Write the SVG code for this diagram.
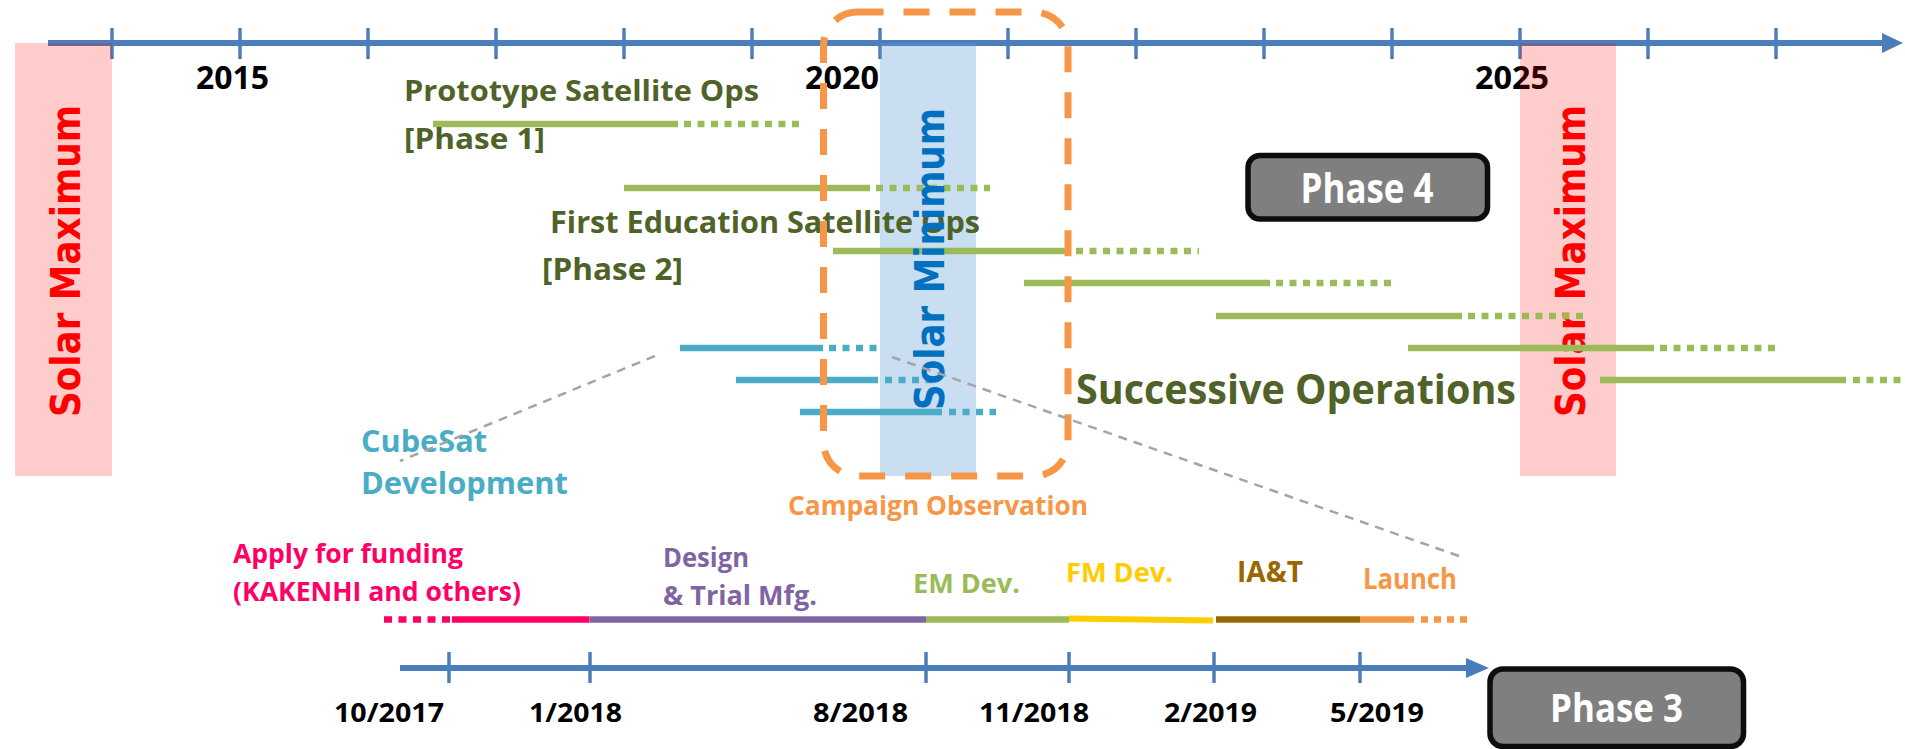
<svg xmlns="http://www.w3.org/2000/svg" width="1905" height="749" viewBox="0 0 1905 749">
<defs>
<style>
.t{font-family:'Open Sans','Liberation Sans',sans-serif;font-weight:700}
.v{font-family:'DejaVu Sans',Verdana,sans-serif;font-weight:700}
.ax{stroke:#4A7EBB;stroke-width:6;fill:none}
.tk{stroke:#4A7EBB;stroke-width:3.5}
.g{stroke:#9BBB59;stroke-width:6.5}
.gd{stroke:#9BBB59;stroke-width:6.5;stroke-dasharray:7 6.5}
.c{stroke:#4BACC6;stroke-width:6.5}
.cd{stroke:#4BACC6;stroke-width:6.5;stroke-dasharray:7 6.5}
.og{fill:#4F6228}
.yr{fill:#000;font-size:33px}
.dt{fill:#000;font-size:27px}
.conn{stroke:#A5A5A5;stroke-width:2.5;stroke-dasharray:9 7;fill:none}
.box{fill:#7F7F7F;stroke:#0D0D0D;stroke-width:5.5}
.wt{fill:#FFFFFF}
</style>
</defs>
<rect x="0" y="0" width="1905" height="749" fill="#FFFFFF"/>

<g id="main-axis">
<line x1="48" y1="43" x2="1884" y2="43" class="ax"/>
<polygon points="1882,33 1903,43 1882,53" fill="#4A7EBB"/>
<g class="tk">
<line x1="112" y1="28" x2="112" y2="59"/><line x1="240" y1="28" x2="240" y2="59"/>
<line x1="368" y1="28" x2="368" y2="59"/><line x1="496" y1="28" x2="496" y2="59"/>
<line x1="624" y1="28" x2="624" y2="59"/><line x1="752" y1="28" x2="752" y2="59"/>
<line x1="880" y1="28" x2="880" y2="59"/><line x1="1008" y1="28" x2="1008" y2="59"/>
<line x1="1136" y1="28" x2="1136" y2="59"/><line x1="1264" y1="28" x2="1264" y2="59"/>
<line x1="1392" y1="28" x2="1392" y2="59"/><line x1="1520" y1="28" x2="1520" y2="59"/>
<line x1="1648" y1="28" x2="1648" y2="59"/><line x1="1776" y1="28" x2="1776" y2="59"/>
</g>
<text class="t yr" x="196" y="89" textLength="73" lengthAdjust="spacingAndGlyphs">2015</text>
<text class="t yr" x="805" y="89" textLength="74" lengthAdjust="spacingAndGlyphs">2020</text>
<text class="t yr" x="1475" y="89" textLength="74" lengthAdjust="spacingAndGlyphs">2025</text>
</g>

<g id="solar-max-left">
<rect x="15" y="43" width="97" height="433" fill="#FF0000" fill-opacity="0.2"/>
<text class="v" transform="translate(80,261) rotate(-90)" text-anchor="middle" font-size="41" fill="#FF0000" textLength="312" lengthAdjust="spacingAndGlyphs">Solar Maximum</text>
</g>
<g id="solar-max-right">
<rect x="1520" y="43" width="96" height="433" fill="#FF0000" fill-opacity="0.2"/>
<text class="v" transform="translate(1585,261) rotate(-90)" text-anchor="middle" font-size="41" fill="#FF0000" textLength="312" lengthAdjust="spacingAndGlyphs">Solar Maximum</text>
</g>
<g id="solar-min-band">
<rect x="880" y="43" width="96" height="433" fill="#5B9BD5" fill-opacity="0.33"/>
</g>

<g id="phase1">
<line x1="433" y1="124" x2="678" y2="124" class="g"/>
<line x1="684" y1="124" x2="800" y2="124" class="gd"/>
<text class="t og" x="404" y="101" font-size="29" textLength="355" lengthAdjust="spacingAndGlyphs">Prototype Satellite Ops</text>
<text class="t og" x="404" y="149" font-size="29" textLength="141" lengthAdjust="spacingAndGlyphs">[Phase 1]</text>
</g>
<g id="phase2">
<line x1="624" y1="188" x2="870" y2="188" class="g"/>
<line x1="876" y1="188" x2="990" y2="188" class="gd"/>
<text class="t og" x="550" y="233" font-size="30" textLength="430" lengthAdjust="spacingAndGlyphs">First Education Satellite Ops</text>
<text class="t og" x="542" y="280" font-size="30" textLength="141" lengthAdjust="spacingAndGlyphs">[Phase 2]</text>
</g>
<g id="successive-operations">
<line x1="833" y1="251" x2="1068" y2="251" class="g"/>
<line x1="1076" y1="251" x2="1199" y2="251" class="gd"/>
<line x1="1024" y1="283" x2="1270" y2="283" class="g"/>
<line x1="1276" y1="283" x2="1392" y2="283" class="gd"/>
<line x1="1216" y1="316" x2="1462" y2="316" class="g"/>
<line x1="1468" y1="316" x2="1584" y2="316" class="gd"/>
<line x1="1408" y1="348" x2="1654" y2="348" class="g"/>
<line x1="1660" y1="348" x2="1776" y2="348" class="gd"/>
<line x1="1600" y1="380" x2="1846" y2="380" class="g"/>
<line x1="1853" y1="380" x2="1905" y2="380" class="gd"/>
<text class="t og" x="1076" y="404" font-size="41" textLength="440" lengthAdjust="spacingAndGlyphs">Successive Operations</text>
</g>
<g id="cubesat-development">
<line x1="680" y1="348" x2="823" y2="348" class="c"/>
<line x1="829" y1="348" x2="877" y2="348" class="cd"/>
<line x1="736" y1="380" x2="878" y2="380" class="c"/>
<line x1="885" y1="380" x2="932" y2="380" class="cd"/>
<line x1="800" y1="412" x2="942" y2="412" class="c"/>
<line x1="949" y1="412" x2="996" y2="412" class="cd"/>
<text class="t" x="361" y="452" font-size="31" fill="#4BACC6" textLength="126" lengthAdjust="spacingAndGlyphs">CubeSat</text>
<text class="t" x="361" y="494" font-size="31" fill="#4BACC6" textLength="207" lengthAdjust="spacingAndGlyphs">Development</text>
</g>
<g id="solar-min-label">
<text class="v" transform="translate(944,259) rotate(-90)" text-anchor="middle" font-size="41" fill="#0070C0" textLength="302" lengthAdjust="spacingAndGlyphs">Solar Minimum</text>
</g>
<g id="campaign-observation">
<rect x="823.5" y="12" width="244.5" height="464" rx="34" fill="none" stroke="#F79646" stroke-width="7" stroke-dasharray="26 20"/>
<text class="t" x="788" y="515" font-size="27" fill="#F79646" textLength="300" lengthAdjust="spacingAndGlyphs">Campaign Observation</text>
</g>

<g id="connectors">
<line x1="655" y1="356" x2="400" y2="461" class="conn"/>
<line x1="892" y1="357" x2="1459" y2="556" class="conn"/>
</g>

<g id="phase3-timeline">
<line x1="400" y1="668" x2="1468" y2="668" class="ax"/>
<polygon points="1466,658 1489,668 1466,678" fill="#4A7EBB"/>
<g class="tk">
<line x1="449" y1="652" x2="449" y2="683"/><line x1="590" y1="652" x2="590" y2="683"/>
<line x1="926" y1="652" x2="926" y2="683"/><line x1="1069" y1="652" x2="1069" y2="683"/>
<line x1="1214" y1="652" x2="1214" y2="683"/><line x1="1360" y1="652" x2="1360" y2="683"/>
</g>
<text class="t dt" x="334" y="722" textLength="110" lengthAdjust="spacingAndGlyphs">10/2017</text>
<text class="t dt" x="529" y="722" textLength="93" lengthAdjust="spacingAndGlyphs">1/2018</text>
<text class="t dt" x="813" y="722" textLength="95" lengthAdjust="spacingAndGlyphs">8/2018</text>
<text class="t dt" x="979" y="722" textLength="110" lengthAdjust="spacingAndGlyphs">11/2018</text>
<text class="t dt" x="1164" y="722" textLength="93" lengthAdjust="spacingAndGlyphs">2/2019</text>
<text class="t dt" x="1330" y="722" textLength="94" lengthAdjust="spacingAndGlyphs">5/2019</text>
</g>
<g id="task-funding">
<line x1="384" y1="619.5" x2="450" y2="619.5" stroke="#FF0066" stroke-width="6.5" stroke-dasharray="8 6.5"/>
<line x1="452" y1="619.5" x2="589.5" y2="619.5" stroke="#FF0066" stroke-width="6.5"/>
<text class="t" x="233" y="563" font-size="27" fill="#FF0066" textLength="230" lengthAdjust="spacingAndGlyphs">Apply for funding</text>
<text class="t" x="233" y="601" font-size="27" fill="#FF0066" textLength="288" lengthAdjust="spacingAndGlyphs">(KAKENHI and others)</text>
</g>
<g id="task-design">
<line x1="589.5" y1="619.5" x2="926" y2="619.5" stroke="#8064A2" stroke-width="6.5"/>
<text class="t" x="663" y="567" font-size="26" fill="#8064A2" textLength="86" lengthAdjust="spacingAndGlyphs">Design</text>
<text class="t" x="663" y="605" font-size="26" fill="#8064A2" textLength="154" lengthAdjust="spacingAndGlyphs">&amp; Trial Mfg.</text>
</g>
<g id="task-em">
<line x1="926" y1="619.5" x2="1069" y2="619.5" stroke="#9BBB59" stroke-width="6.5"/>
<text class="t" x="913" y="593" font-size="26" fill="#9BBB59" textLength="107" lengthAdjust="spacingAndGlyphs">EM Dev.</text>
</g>
<g id="task-fm">
<polygon points="1069,615.5 1213,617.5 1213,623.5 1069,621.5" fill="#FFCC00"/>
<text class="t" x="1066" y="582" font-size="27" fill="#FFCC00" textLength="107" lengthAdjust="spacingAndGlyphs">FM Dev.</text>
</g>
<g id="task-iat">
<line x1="1216" y1="619.5" x2="1360" y2="619.5" stroke="#996600" stroke-width="6.5"/>
<text class="t" x="1237" y="582" font-size="28" fill="#996600" textLength="66" lengthAdjust="spacingAndGlyphs">IA&amp;T</text>
</g>
<g id="task-launch">
<line x1="1360" y1="619.5" x2="1414" y2="619.5" stroke="#F79646" stroke-width="6.5"/>
<line x1="1421" y1="619.5" x2="1467" y2="619.5" stroke="#F79646" stroke-width="6.5" stroke-dasharray="7 6"/>
<text class="t" x="1363" y="589" font-size="28" fill="#F79646" textLength="94" lengthAdjust="spacingAndGlyphs">Launch</text>
</g>

<g id="phase4-box">
<rect x="1248" y="155.5" width="239.5" height="63.5" rx="12" class="box"/>
<text class="t wt" x="1367" y="203" font-size="42" text-anchor="middle" textLength="133" lengthAdjust="spacingAndGlyphs">Phase 4</text>
</g>
<g id="phase3-box">
<rect x="1490" y="669" width="253.5" height="77.5" rx="13" class="box"/>
<text class="t wt" x="1616.5" y="722" font-size="40" text-anchor="middle" textLength="133" lengthAdjust="spacingAndGlyphs">Phase 3</text>
</g>
</svg>
